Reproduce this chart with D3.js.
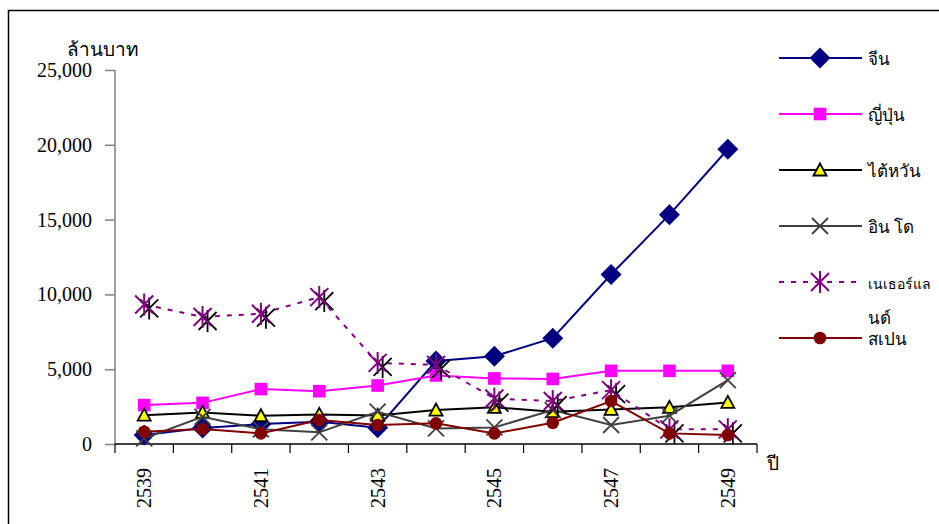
<!DOCTYPE html>
<html>
<head>
<meta charset="utf-8">
<script src="https://cdn.jsdelivr.net/npm/d3@7/dist/d3.min.js"></script>
<style>
  html, body { margin: 0; padding: 0; background: #fff; }
  svg { display: block; }
  text { font-family: "Liberation Serif", "DejaVu Serif", serif; fill: #000; }
</style>
</head>
<body>
<svg id="chart" width="939" height="524"></svg>
<script>
// Export values (million baht) by year, Buddhist era
const years = ["2539", "2540", "2541", "2542", "2543", "2544", "2545", "2546", "2547", "2548", "2549"];
const labelYears = ["2539", "2541", "2543", "2545", "2547", "2549"];
const yTicks = [0, 5000, 10000, 15000, 20000, 25000];

const china       = [600, 1070, 1330, 1490, 1090, 5550, 5870, 7070, 11330, 15330, 19700];
const japan       = [2600, 2750, 3670, 3530, 3910, 4580, 4380, 4350, 4890, 4890, 4890];
const taiwan      = [1930, 2110, 1890, 1980, 1910, 2270, 2450, 2160, 2310, 2450, 2780];
const indo        = [380, 1820, 980, 780, 2160, 1040, 1110, 2270, 1270, 1890, 4270];
const netherlands = [9330, 8490, 8710, 9820, 5420, 5290, 3040, 2870, 3600, 980, 980];
const spain       = [820, 1000, 710, 1600, 1270, 1380, 710, 1420, 2870, 710, 600];

// legend names; the long one wraps onto a second line
const seriesNames = [["จีน"], ["ญี่ปุ่น"], ["ไต้หวัน"], ["อิน โด"], ["เนเธอร์แล", "นด์"], ["สเปน"]];

const series = [
  { name: seriesNames[0], values: china,       color: "#000080", marker: "diamond" },
  { name: seriesNames[1], values: japan,       color: "#ff00ff", marker: "square" },
  { name: seriesNames[2], values: taiwan,      color: "#000000", marker: "triangle" },
  { name: seriesNames[3], values: indo,        color: "#404040", marker: "x" },
  { name: seriesNames[4], values: netherlands, color: "#800080", marker: "star", dash: "5,7" },
  { name: seriesNames[5], values: spain,       color: "#800000", marker: "circle" }
];

const svg = d3.select("#chart");

// outer frame
svg.append("path")
  .attr("d", "M8.5,524 V10.5 H939")
  .attr("fill", "none").attr("stroke", "#000").attr("stroke-width", 1.5);

const x = d3.scaleBand().domain(years).range([115, 757]);
const y = d3.scaleLinear().domain([0, 25000]).range([444, 70]);
const cx = d => x(d) + x.bandwidth() / 2;

// y axis
const yAxis = svg.append("g")
  .attr("transform", "translate(115,0)")
  .call(d3.axisLeft(y).tickValues(yTicks).tickFormat(d3.format(",")).tickSize(10).tickPadding(13));
yAxis.select(".domain").attr("stroke", "#808080").attr("stroke-width", 1.5).attr("d", "M0,70 V444");
yAxis.selectAll(".tick line").attr("stroke", "#808080").attr("stroke-width", 1.5);
yAxis.selectAll(".tick text")
  .attr("font-size", 20).attr("font-family", "Liberation Serif, serif").attr("fill", "#000");

// x axis line and boundary ticks
const xg = svg.append("g");
xg.append("line")
  .attr("x1", x.range()[0]).attr("x2", x.range()[1])
  .attr("y1", y(0)).attr("y2", y(0))
  .attr("stroke", "#000").attr("stroke-width", 1.5);
const bounds = years.map(d => x(d)).concat([x.range()[1]]);
xg.selectAll("line.tk").data(bounds).join("line")
  .attr("class", "tk")
  .attr("x1", d => d).attr("x2", d => d)
  .attr("y1", y(0)).attr("y2", y(0) + 9)
  .attr("stroke", "#000").attr("stroke-width", 1.2);
xg.selectAll("text.xl").data(labelYears).join("text")
  .attr("class", "xl")
  .attr("transform", d => `translate(${cx(d) + 7},468) rotate(-90)`)
  .attr("text-anchor", "end")
  .attr("font-size", 20)
  .text(d => d);

// axis titles
svg.append("text").attr("x", 67).attr("y", 56).attr("font-size", 19).text("ล้านบาท");
svg.append("text").attr("x", 767).attr("y", 470).attr("font-size", 19).text("ปี");

// marker drawing
function drawMarker(g, type, color, px, py, shadow) {
  const m = g.append("g").attr("transform", `translate(${px},${py})`);
  if (type === "diamond") {
    m.append("path").attr("d", "M0,-10.5 L10.5,0 L0,10.5 L-10.5,0 Z").attr("fill", color);
  } else if (type === "square") {
    m.append("rect").attr("x", -6.3).attr("y", -6.3).attr("width", 12.6).attr("height", 12.6).attr("fill", color);
  } else if (type === "triangle") {
    m.append("path").attr("d", "M0,-6.5 L6.5,5.5 L-6.5,5.5 Z")
      .attr("fill", "#ffff00").attr("stroke", "#000").attr("stroke-width", 1.8).attr("stroke-linejoin", "miter");
  } else if (type === "x") {
    m.append("path").attr("d", "M-8,-8 L8,8 M-8,8 L8,-8").attr("stroke", color).attr("stroke-width", 1.8);
  } else if (type === "star") {
    const star = "M-9,-9 L9,9 M-9,9 L9,-9 M0,-11 V11";
    if (shadow) {
      m.append("path").attr("d", star).attr("transform", "translate(5,4)")
        .attr("stroke", "#000").attr("stroke-width", 1.8);
    }
    m.append("path").attr("d", star).attr("stroke", color).attr("stroke-width", 2);
  } else if (type === "circle") {
    m.append("circle").attr("r", 6.3).attr("fill", color);
  }
}

const line = d3.line().x((d, i) => cx(years[i])).y(d => y(d));

series.forEach(s => {
  const g = svg.append("g");
  g.append("path")
    .attr("d", line(s.values))
    .attr("fill", "none")
    .attr("stroke", s.color)
    .attr("stroke-width", 2)
    .attr("stroke-dasharray", s.dash || null);
  s.values.forEach((v, i) => drawMarker(g, s.marker, s.color, cx(years[i]), y(v), true));
});

// legend
const legendY = [58, 114, 170, 226, 282, 338];
const legendTextX = 868;
const legendMaxW = 939 - legendTextX - 8;
const lg = svg.append("g");
series.forEach((s, i) => {
  const ly = legendY[i];
  lg.append("line")
    .attr("x1", 779).attr("x2", 862).attr("y1", ly).attr("y2", ly)
    .attr("stroke", s.color).attr("stroke-width", 2)
    .attr("stroke-dasharray", s.dash || null);
  drawMarker(lg, s.marker, s.color, 820, ly, false);
  s.name.forEach((part, k) => {
    let fs = 17;
    const t = lg.append("text")
      .attr("font-size", fs)
      .attr("x", legendTextX)
      .attr("y", ly + 7 + k * 35)
      .text(part);
    // shrink a label that would run past the right edge
    while (t.node().getComputedTextLength() > legendMaxW && fs > 10) {
      fs -= 0.5;
      t.attr("font-size", fs);
    }
  });
});
</script>
</body>
</html>
